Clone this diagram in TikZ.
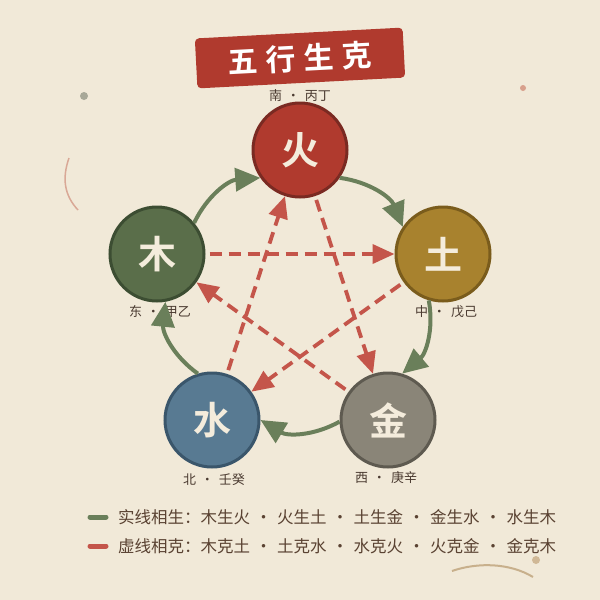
\documentclass[tikz,border=0pt]{standalone}
\usepackage{fontspec}
\newfontfamily\cjk{Noto Sans CJK SC}
\newfontfamily\cjkb{Noto Sans CJK SC Bold}
\usetikzlibrary{arrows.meta}
\definecolor{bg}{HTML}{F1E9D8}
\definecolor{titlered}{HTML}{B03A2E}
\definecolor{cream}{HTML}{F4ECDC}
\definecolor{firef}{HTML}{B03A2E}\definecolor{fired}{HTML}{7A2A22}
\definecolor{woodf}{HTML}{5A6E4A}\definecolor{woodd}{HTML}{3C4D32}
\definecolor{earthf}{HTML}{A8822E}\definecolor{earthd}{HTML}{7A5C1C}
\definecolor{waterf}{HTML}{587A92}\definecolor{waterd}{HTML}{3A566B}
\definecolor{metalf}{HTML}{8A8578}\definecolor{metald}{HTML}{5E5A50}
\definecolor{shengc}{HTML}{6A7F5A}
\definecolor{kec}{HTML}{C4554A}
\definecolor{labc}{HTML}{4A3A30}
\definecolor{legc}{HTML}{5A4232}
\begin{document}
\begin{tikzpicture}[x=1pt,y=1pt,
  elem/.style={circle,minimum size=94pt,inner sep=0pt,line width=3pt,text=cream,font=\cjkb\fontsize{38}{38}\selectfont},
  lab/.style={text=labc,font=\cjk\fontsize{13}{13}\selectfont,inner sep=0pt},
  sheng/.style={draw=shengc,line width=4pt,-{Triangle[length=25pt 0,width=23pt 0]}},
  ke/.style={draw=kec,line width=3.8pt,dash pattern=on 12pt off 7pt,-{Triangle[length=22pt 0,width=19pt 0]},shorten <=4pt},
  leg/.style={text=legc,font=\cjk\fontsize{16.5}{16.5}\selectfont,anchor=west,inner sep=0pt},
  bar/.style={line width=5pt,line cap=round}
]
\newcommand{\dsep}{\makebox[27pt]{·}}
\fill[bg] (0,0) rectangle (600,-600);
\useasboundingbox (0,0) rectangle (600,-600);
% decorations
\fill[color={rgb,255:red,168;green,168;blue,152}] (84,-96) circle (4);
\draw[color={rgb,255:red,217;green,168;blue,150},line width=1.5pt] (69,-158) .. controls (62,-178) and (64,-195) .. (78,-210);
\fill[color={rgb,255:red,216;green,160;blue,140}] (523,-88) circle (3);
\draw[color={rgb,255:red,200;green,176;blue,140},line width=2pt] (452,-571) .. controls (478,-562) and (510,-563) .. (533,-577);
\fill[color={rgb,255:red,208;green,184;blue,150}] (536,-560) circle (4);
% title
\node[rotate=3,fill=titlered,rounded corners=4pt,minimum width=208pt,minimum height=50pt,text=white,font=\cjkb\fontsize{30}{30}\selectfont] (title) at (300,-58) {五\hspace{8pt}行\hspace{8pt}生\hspace{8pt}克};
% elements
\node[elem,fill=firef,draw=fired] (huo) at (300,-150) {火};
\node[elem,fill=woodf,draw=woodd] (mu) at (157,-254) {木};
\node[elem,fill=earthf,draw=earthd] (tu) at (443,-254) {土};
\node[elem,fill=waterf,draw=waterd] (shui) at (212,-420) {水};
\node[elem,fill=metalf,draw=metald] (jin) at (388,-420) {金};
% labels
\node[lab] (lhuo) at (300,-96) {南\hspace{5pt}·\hspace{5pt}丙丁};
\node[lab] (lmu) at (160,-312) {东\hspace{5pt}·\hspace{5pt}甲乙};
\node[lab] (ltu) at (446,-312) {中\hspace{5pt}·\hspace{5pt}戊己};
\node[lab] (lshui) at (214,-480) {北\hspace{5pt}·\hspace{5pt}壬癸};
\node[lab] (ljin) at (386,-478) {西\hspace{5pt}·\hspace{5pt}庚辛};
% sheng (generating) arrows
\draw[sheng] (mu.40) to[bend left=30] (huo.215);
\draw[sheng] (huo.-35) to[bend left=30] (tu.146);
\draw[sheng] (tu.253) to[bend left=30] (jin.73);
\draw[sheng] (jin.182) to[bend left=30] (shui.0);
\draw[sheng] (shui.107) to[bend left=30] (mu.-80);
% ke (controlling) arrows
\draw[ke] (mu) -- (tu);
\draw[ke] (tu) -- (shui);
\draw[ke] (shui) -- (huo);
\draw[ke] (huo) -- (jin);
\draw[ke] (jin) -- (mu);
% legend
\coordinate (g1) at (90,-517); \coordinate (g2) at (106,-517);
\coordinate (r1) at (90,-546); \coordinate (r2) at (106,-546);
\draw[bar,draw=shengc] (g1) -- (g2);
\draw[bar,draw=kec] (r1) -- (r2);
\node[leg] (leg1) at (118,-517) {实线相生：木生火\dsep 火生土\dsep 土生金\dsep 金生水\dsep 水生木};
\node[leg] (leg2) at (118,-546) {虚线相克：木克土\dsep 土克水\dsep 水克火\dsep 火克金\dsep 金克木};
\end{tikzpicture}
\end{document}
